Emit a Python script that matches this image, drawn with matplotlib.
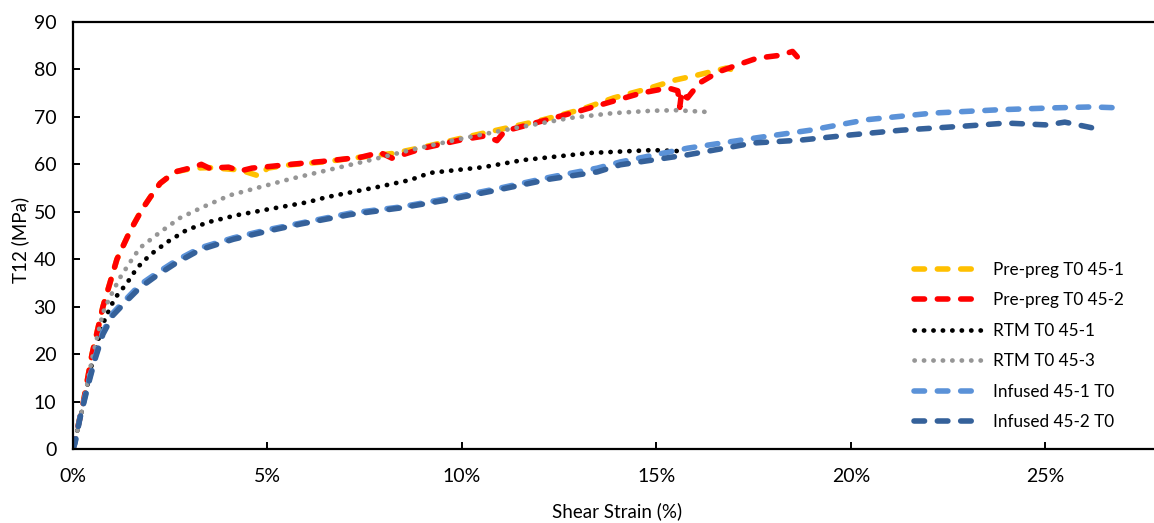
import matplotlib
matplotlib.use("Agg")
import matplotlib.pyplot as plt
from matplotlib.ticker import FuncFormatter

# ---- data (shear strain in %, T12 in MPa) ----
prepreg1_x = [0, 0.27, 0.49, 0.77, 1.13, 1.47, 1.77, 1.98, 2.24, 2.62, 3.1, 3.5, 4.0, 4.3, 4.8, 5.0,
              5.58, 6.43, 7.38, 8.23, 9.0, 10.03, 11.06, 12.09, 13.04, 13.9, 14.76, 15.5, 16.05, 16.8, 17.1]
prepreg1_y = [0, 10, 20, 30, 40, 46, 50.5, 53, 56, 58.4, 59.2, 59.3, 59.0, 58.8, 57.5, 59.2,
              59.9, 60.5, 61.5, 62.3, 63.6, 65.6, 67.5, 69.4, 71.5, 74, 75.9, 77.8, 78.8, 80.3, 79.5]

prepreg2_x = [0, 0.27, 0.49, 0.77, 1.13, 1.47, 1.77, 1.98, 2.24, 2.62, 3.1, 3.3, 3.5, 4.0, 4.3, 4.6,
              5.0, 5.6, 6.4, 7.4, 7.9, 8.2, 9.0, 10.0, 10.6, 10.9, 11.1, 12.1, 13.0, 13.8, 14.6,
              15.3, 15.55, 15.6, 15.65, 15.7, 15.8, 16.1, 16.6, 17.1, 17.6, 18.2, 18.5, 18.65]
prepreg2_y = [0, 10, 20, 30, 40, 46, 50.4, 53, 56, 58.4, 59.4, 60, 59.2, 59.4, 58.6, 59.2,
              59.5, 60, 60.6, 61.5, 62.5, 61.3, 63.4, 65.2, 66, 65, 67, 69.2, 71.2, 73.1, 75,
              76.1, 75.5, 72, 75.3, 74.5, 74, 77.1, 79.5, 81, 82.4, 83, 83.8, 82.4]

rtm1_x = [0, 0.27, 0.5, 0.75, 0.95, 1.08, 1.39, 1.65, 1.98, 2.42, 2.93, 3.52, 4.22, 5.07, 6.02,
          6.53, 7.82, 8.67, 9.18, 10.55, 11.57, 13.3, 14.9, 15.56]
rtm1_y = [0, 9.5, 18.5, 26, 29.7, 31.8, 35, 38.2, 40.9, 43.6, 46.2, 47.9, 49.3, 50.6, 52,
          53.1, 55.2, 56.7, 58.2, 59.4, 60.9, 62.4, 63, 62.8]

rtm3_x = [0, 0.27, 0.49, 0.77, 0.95, 1.2, 1.47, 1.72, 2.24, 2.75, 3.34, 4.04, 4.81, 5.58, 6.87,
          7.7, 8.67, 10.03, 11.4, 12.8, 13.9, 14.9, 15.5, 16.4]
rtm3_y = [0, 9.5, 19, 28.7, 32, 36, 39.4, 42.4, 45.7, 48.7, 51, 53.5, 55.2, 56.9, 59.4,
          61, 63, 65.5, 67.7, 69.8, 70.8, 71.3, 71.4, 71.0]

inf1_x = [0, 0.05, 0.18, 0.39, 0.57, 0.77, 1.03, 1.39, 1.72, 2.16, 2.67, 3.27, 4.12, 4.99, 5.84,
          7.12, 8.41, 9.7, 10.98, 12.27, 13.48, 14.07, 15.8, 17.5, 18.96, 20.4, 22.1, 23.8, 25.2,
          26.2, 26.9]
inf1_y = [0, 1.3, 6.7, 13.9, 19.4, 24.7, 28.7, 31.8, 34.6, 37.1, 39.8, 42.4, 44.5, 46.2, 47.6,
          49.7, 51, 52.9, 55, 57.3, 59.2, 60.5, 63.4, 65.5, 67.2, 69.4, 70.8, 71.5, 71.9,
          72.1, 71.9]

inf2_x = [0, 0.05, 0.18, 0.39, 0.57, 0.77, 1.03, 1.39, 1.72, 2.16, 2.67, 3.27, 4.12, 4.99, 5.84,
          7.12, 8.41, 9.7, 10.98, 12.27, 13.48, 14.07, 15.8, 17.5, 18.7, 20.0, 21.3, 23.0, 24.0,
          25.05, 25.5, 26.2]
inf2_y = [0, 1.2, 6.5, 13.5, 19, 24.2, 28.2, 31.3, 34.0, 36.6, 39.3, 42.0, 44.2, 45.9, 47.4,
          49.4, 50.8, 52.6, 54.7, 56.9, 58.4, 59.9, 62, 64.5, 65.1, 66.2, 67.2, 68.1, 68.7,
          68.3, 68.9, 67.7]

labels = ["Pre-preg T0 45-1", "Pre-preg T0 45-2", "RTM T0 45-1", "RTM T0 45-3",
          "Infused 45-1 T0", "Infused 45-2 T0"]
x_ticks = [0, 5, 10, 15, 20, 25]
y_ticks = [0, 10, 20, 30, 40, 50, 60, 70, 80, 90]

plt.rcParams['font.family'] = ['Lato', 'DejaVu Sans']

W, H = 1154, 523
fig = plt.figure(figsize=(W / 100, H / 100), dpi=100)
ax = fig.add_axes([73 / W, 74 / H, (1162 - 73) / W, 427 / H])

dash_kw = dict(lw=4.0, dash_capstyle='round', solid_capstyle='round')
dot_kw = dict(lw=3.4, dash_capstyle='round')
DASH = (1.9, 2.3)
DOT = (0.05, 1.95)

ax.plot(prepreg1_x, prepreg1_y, color='#FFC000', dashes=DASH, label=labels[0], **dash_kw)
ax.plot(prepreg2_x, prepreg2_y, color='#FF0000', dashes=DASH, label=labels[1], **dash_kw)
ax.plot(rtm1_x, rtm1_y, color='#000000', dashes=DOT, label=labels[2], **dot_kw)
ax.plot(rtm3_x, rtm3_y, color='#969696', dashes=DOT, label=labels[3], **dot_kw)
ax.plot(inf1_x, inf1_y, color='#5B92D8', dashes=DASH, label=labels[4], **dash_kw)
ax.plot(inf2_x, inf2_y, color='#35619A', dashes=DASH, label=labels[5], **dash_kw)

ax.set_xlim(0, 28)
ax.set_ylim(0, 90)
ax.set_xticks(x_ticks)
ax.set_yticks(y_ticks)
ax.xaxis.set_major_formatter(FuncFormatter(lambda v, p: f"{v:.0f}%"))

for s in ['left', 'bottom', 'top']:
    ax.spines[s].set_linewidth(1.6)
ax.spines['right'].set_visible(False)
ax.tick_params(axis='both', direction='in', length=5, width=1.4, labelsize=14, colors='black')
ax.tick_params(axis='y', pad=12)
ax.tick_params(axis='x', pad=14)

ax.set_xlabel("Shear Strain (%)", fontsize=13.5)
ax.set_ylabel("T12 (MPa)", fontsize=13.5)
ax.xaxis.set_label_coords((617 - 73) / (1162 - 73), -(502 - 449) / 427)
ax.yaxis.set_label_coords(-(73 - 29) / (1162 - 73), (449 - 240) / 427)

leg = ax.legend(loc='upper left', bbox_to_anchor=(905 / W, (523 - 253) / H),
                bbox_transform=fig.transFigure, frameon=False, fontsize=12.3,
                handlelength=4.1, handletextpad=0.55, labelspacing=0.85, borderpad=0)

fig.savefig("out.png", dpi=100)
